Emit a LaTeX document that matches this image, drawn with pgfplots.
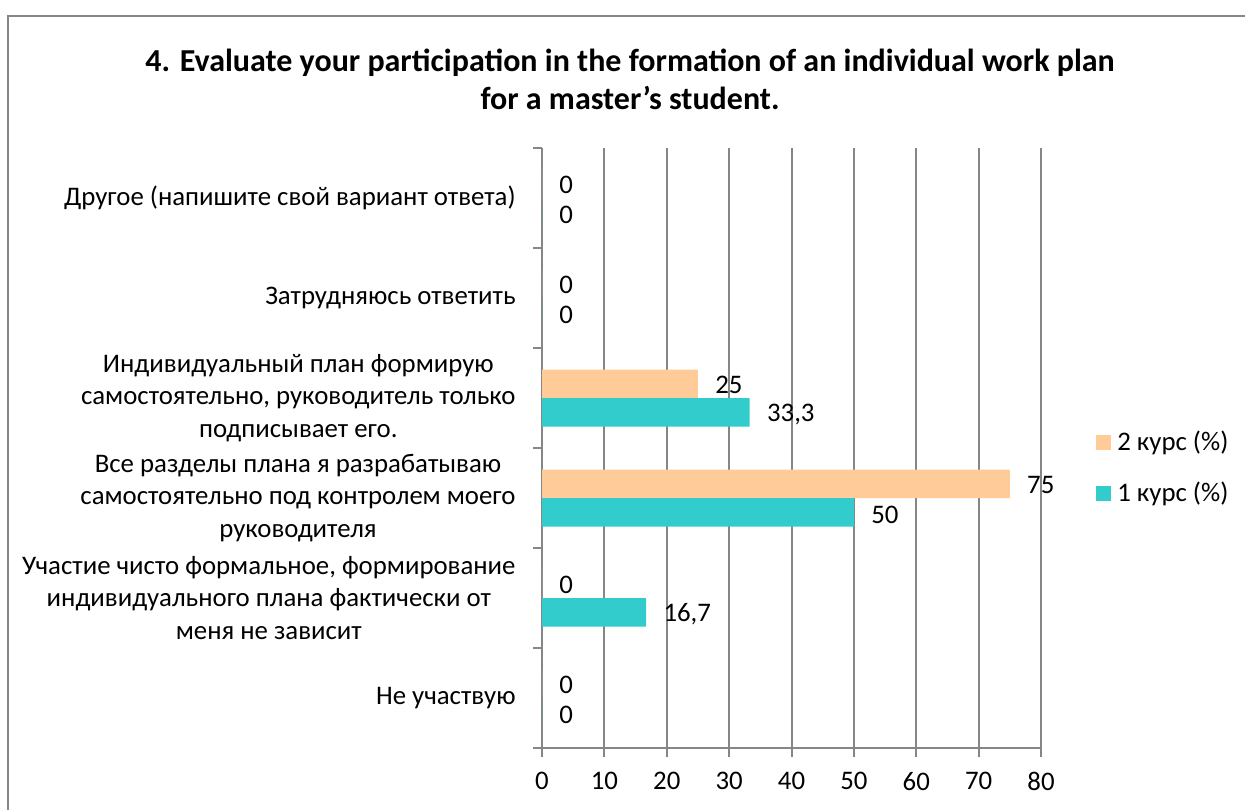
\documentclass[border=0pt]{standalone}
\usepackage{pgfplots}
\pgfplotsset{compat=1.18}
\usepackage{fontspec}
\setmainfont{Carlito}
\definecolor{peach}{RGB}{255,204,153}
\definecolor{tealbar}{RGB}{51,204,204}
\definecolor{gridgray}{RGB}{134,134,134}
\begin{document}
\begin{tikzpicture}
\useasboundingbox (0,0) rectangle (622.5pt,-405pt);
\draw[gridgray, line width=1pt] (4pt,-405pt) -- (4pt,-7.75pt) -- (622.5pt,-7.75pt);
\node[font=\fontsize{16}{19}\selectfont\bfseries, align=center] at (315pt,-39.5pt)
  {4. Evaluate your participation in the formation of an individual work plan\\for a master’s student.};
\begin{axis}[
  at={(271pt,-374pt)}, anchor=south west,
  scale only axis, width=249.5pt, height=300pt,
  xmin=0, xmax=80, ymin=-0.5, ymax=5.5,
  axis lines=left, axis line style={-, draw=gridgray, line width=1pt},
  xtick={0,10,...,80},
  xmajorgrids, grid style={draw=gridgray, line width=1pt},
  tick align=outside, major tick length=4.5pt,
  tick style={draw=gridgray, line width=1pt},
  ytick={-0.5,0.5,...,5.5},
  yticklabels={,,,,,,,},
  extra y ticks={0,1,2,3,4,5},
  extra y tick labels={
    {Не участвую},
    {Участие чисто формальное, формирование\\индивидуального плана фактически от\\меня не зависит},
    {Все разделы плана я разрабатываю\\самостоятельно под контролем моего\\руководителя},
    {Индивидуальный план формирую\\самостоятельно, руководитель только\\подписывает его.},
    {Затрудняюсь ответить},
    {Другое (напишите свой вариант ответа)}},
  extra y tick style={major tick length=0pt,
    yticklabel style={font=\fontsize{13.4}{16.2}\selectfont, align=center, anchor=east, inner sep=0pt, xshift=-13pt}},
  xticklabel style={font=\fontsize{13.4}{15}\selectfont, anchor=north, inner sep=0pt, yshift=-7.5pt},
  /pgf/number format/assume math mode=true,
  /pgf/number format/use comma,
  nodes near coords,
  every node near coord/.append style={font=\fontsize{13.4}{15}\selectfont, anchor=west, inner sep=0pt, xshift=8.5pt, text=black},
  legend style={draw=none, fill=none, at={(1.11,0.467)}, anchor=west,
    font=\fontsize{13.4}{15}\selectfont, row sep=10.5pt, inner sep=0pt,
    /tikz/every odd column/.append style={column sep=1pt}},
  legend cell align=left,
  legend image code/.code={\fill[#1] (0pt,-3.75pt) rectangle (7.5pt,3.75pt);},
]
\addplot[xbar, bar width=14.25pt, bar shift=7.125pt, fill=peach, draw=none, point meta=x,
  every node near coord/.append style={yshift=6.4pt}]
  coordinates {(0,0) (0,1) (75,2) (25,3) (0,4) (0,5)};
\addlegendentry{2 курс (\%)}
\addplot[xbar, bar width=14.25pt, bar shift=-7.125pt, fill=tealbar, draw=none, point meta=x,
  every node near coord/.append style={yshift=-8.2pt}]
  coordinates {(0,0) (16.7,1) (50,2) (33.3,3) (0,4) (0,5)};
\addlegendentry{1 курс (\%)}
\end{axis}
\end{tikzpicture}
\end{document}
